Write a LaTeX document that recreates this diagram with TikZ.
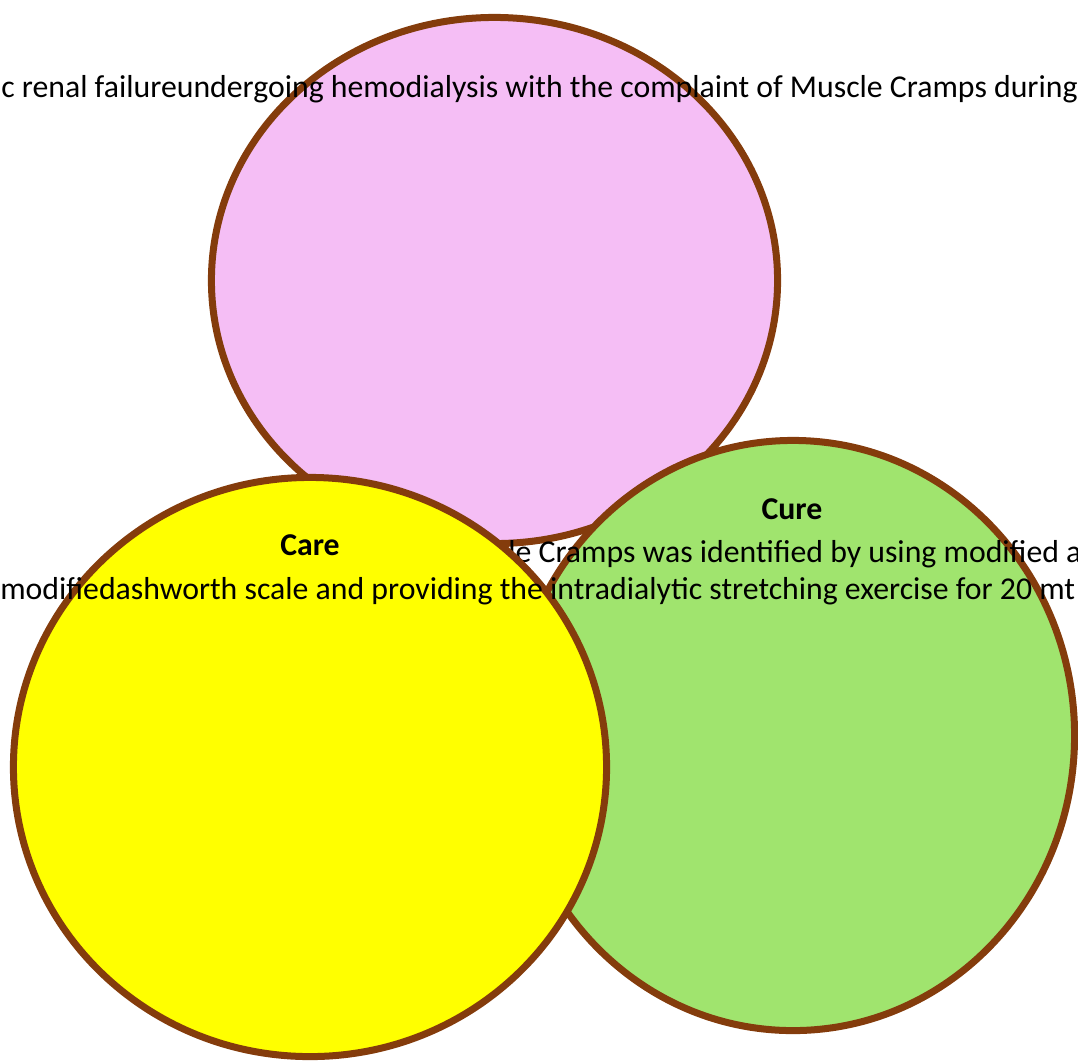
\documentclass[tikz,border=0pt]{standalone}
\usepackage{fontspec}
\setmainfont{Carlito}
\usepackage{tikz}
\usetikzlibrary{shapes.geometric}

\definecolor{rimbrown}{HTML}{843C0C}
\definecolor{causepink}{HTML}{F5BEF5}
\definecolor{curegreen}{HTML}{A0E46E}
\definecolor{careyellow}{HTML}{FFFF00}

\begin{document}
\begin{tikzpicture}[
    x=0.025cm, y=-0.025cm,
    every node/.style={font=\fontsize{22.6}{27}\selectfont},
    bub/.style={ellipse, draw=rimbrown, line width=0.175cm, inner sep=0pt},
    ttl/.style={font=\fontsize{22.6}{27}\selectfont\bfseries, inner sep=0pt, anchor=base},
    txt/.style={inner sep=0pt, anchor=base west},
  ]
  \useasboundingbox (0,0) rectangle (1078,1061);
  \clip (0,0) rectangle (1078,1061);
  % top circle
  \node[bub, fill=causepink, minimum width=14.15cm, minimum height=13.15cm] (cause) at (494.5, 280.5) {};
  \node[txt] (causetxt) at (1, 97) {c renal failureundergoing hemodialysis with the complaint of Muscle Cramps during};
  % right circle
  \node[bub, fill=curegreen, minimum width=14.075cm, minimum height=14.75cm] (cure) at (793, 735.5) {};
  \node[ttl] (curettl) at (792, 519) {Cure};
  \node[txt] (curetxt) at (508, 562) {le Cramps was identified by using modified a};
  % left circle
  \node[bub, fill=careyellow, minimum width=14.825cm, minimum height=14.475cm] (care) at (310, 767) {};
  \node[ttl] (carettl) at (310, 555) {Care};
  \node[txt] (caretxt) at (0, 599) {modifiedashworth scale and providing the intradialytic stretching exercise for 20 mt};
\end{tikzpicture}
\end{document}
